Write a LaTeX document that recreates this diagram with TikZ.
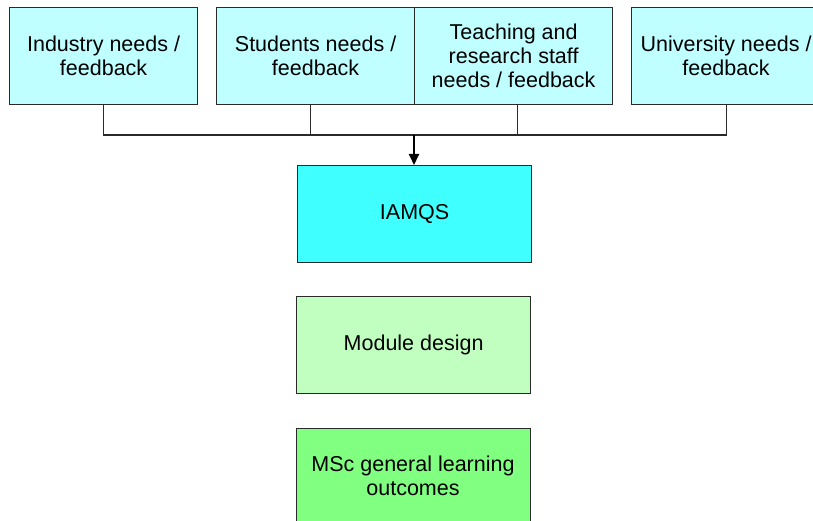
\documentclass[tikz,border=0pt]{standalone}
\usepackage{fontspec}
\setmainfont{Liberation Sans}
\usetikzlibrary{arrows.meta}
\definecolor{topc}{HTML}{C0FFFF}
\definecolor{iamc}{HTML}{40FFFF}
\definecolor{modc}{HTML}{C0FFC0}
\definecolor{mscc}{HTML}{80FF80}
\definecolor{edge}{HTML}{2A2A2A}
\tikzset{
  txt/.style={font=\fontsize{21.5}{24}\selectfont, align=center},
  box/.style={draw=edge, line width=1.2pt, rectangle, txt, inner sep=0pt, anchor=north west},
  conn/.style={draw=edge, line width=1.1pt},
  arr/.style={draw=black, line width=2pt, -{Triangle[length=11pt,width=10pt]}}
}
\begin{document}
\begin{tikzpicture}[x=1pt,y=-1pt]
\clip (0,0) rectangle (813,521);
\fill[white] (0,0) rectangle (813,521);
\node[box, fill=topc, minimum width=188pt, minimum height=97pt] (ind) at (9,7) {Industry needs /\\feedback};
\node[box, fill=topc, minimum width=198pt, minimum height=97pt] (stu) at (216,7) {Students needs /\\feedback};
\node[box, fill=topc, minimum width=198pt, minimum height=97pt] (tea) at (414,7) {Teaching and\\research staff\\needs / feedback};
\node[box, fill=topc, minimum width=189pt, minimum height=97pt] (uni) at (631,7) {University needs /\\feedback};
\node[box, fill=iamc, minimum width=234pt, minimum height=97pt] (iam) at (297,165) {IAMQS};
\node[box, fill=modc, minimum width=234pt, minimum height=97pt] (mod) at (296,295.5) {Module design};
\node[box, fill=mscc, minimum width=234pt, minimum height=120pt] (msc) at (296,427.5) {};
\node[txt] (msct) at (413,476) {MSc general learning\\outcomes};
\coordinate (j) at (414,135);
\draw[conn] (ind.south) |- (j);
\draw[conn] (uni.south) |- (j);
\draw[conn] ([xshift=-5pt]stu.south) -- ([xshift=-5pt]stu.south |- j);
\draw[conn] ([xshift=4pt]tea.south) -- ([xshift=4pt]tea.south |- j);
\draw[arr] (j) -- (j |- iam.north);
\end{tikzpicture}
\end{document}
